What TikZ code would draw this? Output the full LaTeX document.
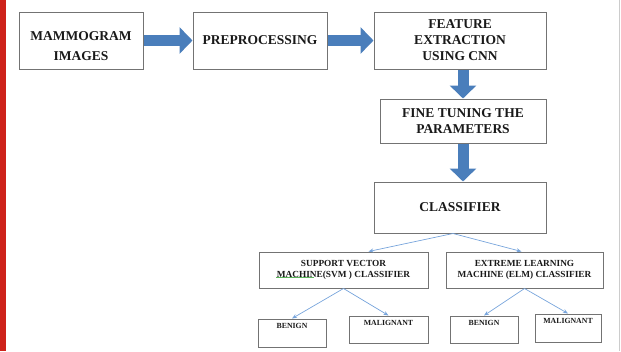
\documentclass[tikz,border=0pt]{standalone}
\usepackage{fontspec}
\setmainfont{Liberation Serif}
\usetikzlibrary{arrows.meta}
\definecolor{blockblue}{RGB}{74,126,187}
\definecolor{linkblue}{RGB}{120,165,220}
\definecolor{sidered}{RGB}{206,34,26}
\definecolor{squiggle}{RGB}{90,180,90}

\begin{document}
\begin{tikzpicture}[x=1pt,y=-1pt,
  box/.style={draw=black!55,line width=1pt,inner sep=0pt,align=center,
    text=black!90,font=\bfseries\fontsize{13.5}{16}\selectfont},
  smallbox/.style={box,font=\bfseries\fontsize{9.3}{11}\selectfont},
  leafbox/.style={box,font=\bfseries\fontsize{7.8}{9}\selectfont,
    text height=5pt,text depth=14pt},
  blockarrow/.style={blockblue,line width=11pt,-{Triangle[length=13pt,width=26pt]}},
  link/.style={linkblue,line width=0.7pt,-{Stealth[length=5pt,width=4pt]}}]
\useasboundingbox (0,0) rectangle (621,351);
\fill [sidered] (0,0) rectangle (6,351);
\draw [black!20,line width=1pt] (619,0) -- (619,351);
% main chain
\node [box,minimum width=124pt,minimum height=57pt,text height=43pt,text depth=3pt,
  font=\bfseries\fontsize{13.5}{20}\selectfont] (mam) at (81,40.5) {MAMMOGRAM\\IMAGES};
\node [box,minimum width=134pt,minimum height=57pt] (pre) at (260,40.5) {PREPROCESSING};
\node [box,minimum width=172pt,minimum height=57pt] (feat) at (460,40.5) {FEATURE\\EXTRACTION\\USING CNN};
\node [box,minimum width=166pt,minimum height=44pt] (tune) at (463,121) {FINE TUNING THE\\PARAMETERS};
\node [box,minimum width=172pt,minimum height=51pt] (cls) at (460,207.5) {CLASSIFIER};
% classifiers
\node [smallbox,minimum width=169pt,minimum height=36pt] (svm) at (343.5,270) {SUPPORT VECTOR\\MACHINE(SVM ) CLASSIFIER};
\node [smallbox,minimum width=157pt,minimum height=36pt] (elm) at (524.5,270) {EXTREME LEARNING\\MACHINE (ELM) CLASSIFIER};
\draw [squiggle,line width=0.5pt] (276,277.5) -- (314,277.5);
% outcomes
\node [leafbox,minimum width=68pt,minimum height=28pt] (ben1) at (292,333) {BENIGN};
\node [leafbox,minimum width=79pt,minimum height=27pt] (mal1) at (388.5,329.5) {MALIGNANT};
\node [leafbox,minimum width=68pt,minimum height=27pt] (ben2) at (484,329.5) {BENIGN};
\node [leafbox,minimum width=66pt,minimum height=28pt] (mal2) at (568,328) {MALIGNANT};
% arrows
\draw [blockarrow] (mam.east) -- (pre.west);
\draw [blockarrow] (pre.east) -- (feat.west);
\draw [blockarrow] (tune.north |- feat.south) -- (tune.north);
\draw [blockarrow] (tune.south) -- (tune.south |- cls.north);
\draw [link] ([xshift=-7pt]cls.south) -- ([xshift=25pt]svm.north);
\draw [link] ([xshift=-7pt]cls.south) -- ([xshift=-3pt]elm.north);
\draw [link] (svm.south) -- (ben1.north);
\draw [link] (svm.south) -- (mal1.north);
\draw [link] (elm.south) -- (ben2.north);
\draw [link] (elm.south) -- (mal2.north);
\end{tikzpicture}
\end{document}
